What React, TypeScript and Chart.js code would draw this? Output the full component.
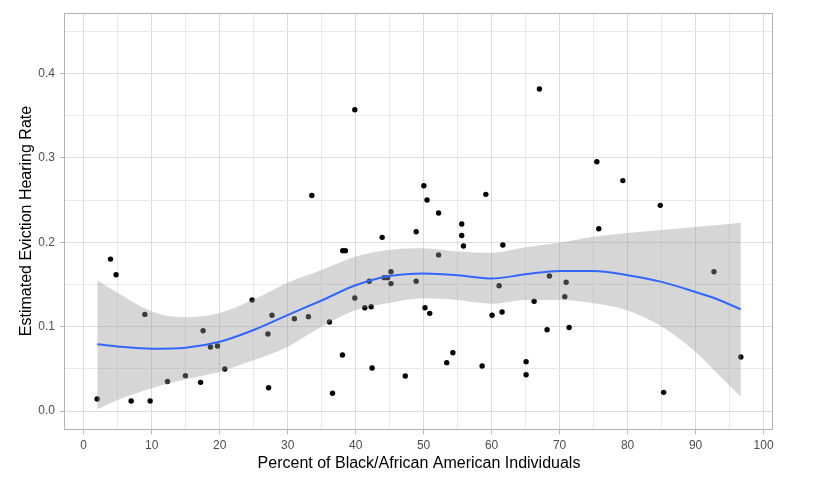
import React, { useEffect, useRef } from "react";
import { Chart, registerables } from "chart.js";

Chart.register(...registerables);

// Scatter points: percent of Black/African American individuals vs. estimated eviction hearing rate
const pointsX = [
  1.99, 3.95, 4.78, 6.99, 9.0, 9.78, 12.33, 14.97, 17.2, 17.57, 18.65, 19.68, 20.76, 24.78,
  27.1, 27.2, 27.7, 31.0, 33.06, 33.56, 36.15, 36.6, 38.06, 38.1, 38.5, 39.88, 39.88, 41.35,
  42.0, 42.28, 42.43, 43.9, 44.2, 44.7, 45.2, 45.2, 47.3, 48.9, 48.9, 50.03, 50.2, 50.5,
  50.9, 52.2, 52.2, 53.4, 54.3, 55.6, 55.6, 55.86, 58.6, 59.15, 60.07, 61.1, 61.54, 61.65,
  65.07, 65.07, 66.25, 67.03, 68.16, 68.5, 70.76, 70.96, 71.4, 75.47, 75.76, 79.3, 84.8,
  85.3, 92.7, 96.65,
];
const pointsY = [
  0.0142, 0.18, 0.1615, 0.0118, 0.1145, 0.0118, 0.035, 0.0419, 0.034, 0.0952, 0.0758, 0.077,
  0.0498, 0.1315, 0.0912, 0.0276, 0.1134, 0.1094, 0.1118, 0.2555, 0.1055, 0.021, 0.0663, 0.19,
  0.19, 0.357, 0.134, 0.1224, 0.1537, 0.1236, 0.051, 0.2058, 0.158, 0.158, 0.165, 0.151,
  0.0415, 0.2125, 0.1537, 0.267, 0.1224, 0.25, 0.1157, 0.2346, 0.185, 0.0573, 0.069, 0.2216,
  0.208, 0.1955, 0.0533, 0.2567, 0.1134, 0.1485, 0.1173, 0.1967, 0.0585, 0.043, 0.13, 0.3815,
  0.0963, 0.16, 0.1355, 0.1525, 0.099, 0.2954, 0.216, 0.273, 0.2437, 0.0221, 0.165, 0.064,
];

// LOESS smooth and its confidence band
const smoothX = [2, 5, 10, 15, 20, 25, 30, 35, 40, 45, 50, 55, 60, 65, 70, 75, 80, 85, 90, 93, 96.65];
const smoothFit = [
  0.079, 0.0765, 0.0738, 0.075, 0.082, 0.096, 0.1137, 0.131, 0.149, 0.16, 0.163, 0.161, 0.157,
  0.162, 0.166, 0.166, 0.161, 0.153, 0.141, 0.133, 0.1205,
];
const bandUpper = [
  0.155, 0.14, 0.118, 0.111, 0.116, 0.132, 0.152, 0.167, 0.183, 0.191, 0.193, 0.189, 0.1876,
  0.194, 0.1995, 0.2066, 0.211, 0.2145, 0.218, 0.22, 0.223,
];
const bandLower = [
  0.002, 0.013, 0.027, 0.0375, 0.0466, 0.0604, 0.076, 0.1, 0.1197, 0.128, 0.1335, 0.1315, 0.127,
  0.1315, 0.1315, 0.1276, 0.119, 0.1, 0.07, 0.046, 0.017,
];

const xTicks = [0, 5, 10, 15, 20, 25, 30, 35, 40, 45, 50, 55, 60, 65, 70, 75, 80, 85, 90, 95, 100];
const yTicks = [0, 0.05, 0.1, 0.15, 0.2, 0.25, 0.3, 0.35, 0.4, 0.45];

const xTitle = "Percent of Black/African American Individuals";
const yTitle = "Estimated Eviction Hearing Rate";

const FONT = "'Liberation Sans', Arial, Helvetica, sans-serif";

const zip = (xs: number[], ys: number[]) => xs.map((x, i) => ({ x, y: ys[i] }));

const isMajorX = (v: number) => Math.round(v) % 10 === 0;
const isMajorY = (v: number) => Math.round(v * 20) % 2 === 0;

const panelBorder = {
  id: "panelBorder",
  afterDatasetsDraw(chart: any) {
    const { ctx, chartArea } = chart;
    ctx.save();
    ctx.strokeStyle = "#b3b3b3";
    ctx.lineWidth = 1;
    ctx.strokeRect(
      chartArea.left - 0.5,
      chartArea.top + 0.5,
      chartArea.right - chartArea.left,
      chartArea.bottom - chartArea.top
    );
    ctx.restore();
  },
};

export default function App() {
  const ref = useRef<HTMLCanvasElement | null>(null);

  useEffect(() => {
    if (!ref.current) return;
    const band = "rgba(153,153,153,0.4)";
    const chart = new Chart(ref.current, {
      type: "scatter",
      data: {
        datasets: [
          {
            type: "line",
            data: zip(smoothX, bandUpper),
            borderColor: "transparent",
            borderWidth: 0,
            backgroundColor: band,
            pointRadius: 0,
            fill: "+1",
            cubicInterpolationMode: "monotone",
            order: 3,
          } as any,
          {
            type: "line",
            data: zip(smoothX, bandLower),
            borderColor: "transparent",
            borderWidth: 0,
            backgroundColor: band,
            pointRadius: 0,
            fill: false,
            cubicInterpolationMode: "monotone",
            order: 2,
          } as any,
          {
            type: "line",
            data: zip(smoothX, smoothFit),
            borderColor: "#3366FF",
            borderWidth: 2,
            pointRadius: 0,
            fill: false,
            cubicInterpolationMode: "monotone",
            order: 1,
          } as any,
          {
            type: "scatter",
            data: zip(pointsX, pointsY),
            backgroundColor: "#000000",
            borderWidth: 0,
            pointRadius: 2.7,
            order: 4,
          } as any,
        ],
      },
      options: {
        animation: false,
        responsive: false,
        devicePixelRatio: 1,
        layout: { padding: { left: 0, top: 13, right: 46, bottom: 0 } },
        plugins: { legend: { display: false }, tooltip: { enabled: false } },
        scales: {
          x: {
            type: "linear",
            min: -2.74,
            max: 101.38,
            afterBuildTicks: (scale: any) => {
              scale.ticks = xTicks.map((v) => ({ value: v }));
            },
            afterFit: (scale: any) => {
              scale.height = 53;
            },
            border: { display: false },
            grid: {
              color: (c: any) => (isMajorX(c.tick.value) ? "#dcdcdc" : "#e9e9e9"),
              lineWidth: 1,
              tickLength: 5,
              tickColor: (c: any) => (isMajorX(c.tick.value) ? "#b3b3b3" : "transparent"),
            },
            ticks: {
              autoSkip: false,
              maxRotation: 0,
              padding: 4,
              color: "#4d4d4d",
              font: { family: FONT, size: 12 },
              callback: (v: any) => (isMajorX(Number(v)) ? String(v) : ""),
            },
            title: {
              display: true,
              text: xTitle,
              color: "#000000",
              font: { family: FONT, size: 16, lineHeight: 1.2 },
              padding: { top: 0, bottom: 9 },
            },
          },
          y: {
            type: "linear",
            min: -0.0213,
            max: 0.4716,
            afterBuildTicks: (scale: any) => {
              scale.ticks = yTicks.map((v) => ({ value: v }));
            },
            afterFit: (scale: any) => {
              scale.width = 65;
            },
            border: { display: false },
            grid: {
              color: (c: any) => (isMajorY(c.tick.value) ? "#dcdcdc" : "#e9e9e9"),
              lineWidth: 1,
              tickLength: 5,
              tickColor: (c: any) => (isMajorY(c.tick.value) ? "#b3b3b3" : "transparent"),
            },
            ticks: {
              autoSkip: false,
              padding: 5,
              color: "#4d4d4d",
              font: { family: FONT, size: 12 },
              callback: (v: any) => (isMajorY(Number(v)) ? Number(v).toFixed(1) : ""),
            },
            title: {
              display: true,
              text: yTitle,
              color: "#000000",
              font: { family: FONT, size: 16, lineHeight: 1.2 },
              padding: { top: 17, bottom: 0 },
            },
          },
        },
      } as any,
      plugins: [panelBorder],
    });
    return () => chart.destroy();
  }, []);

  return (
    <div style={{ position: "absolute", left: 0, top: 0, width: 819, height: 482, background: "#ffffff" }}>
      <canvas ref={ref} width={819} height={482} style={{ display: "block" }} />
    </div>
  );
}
